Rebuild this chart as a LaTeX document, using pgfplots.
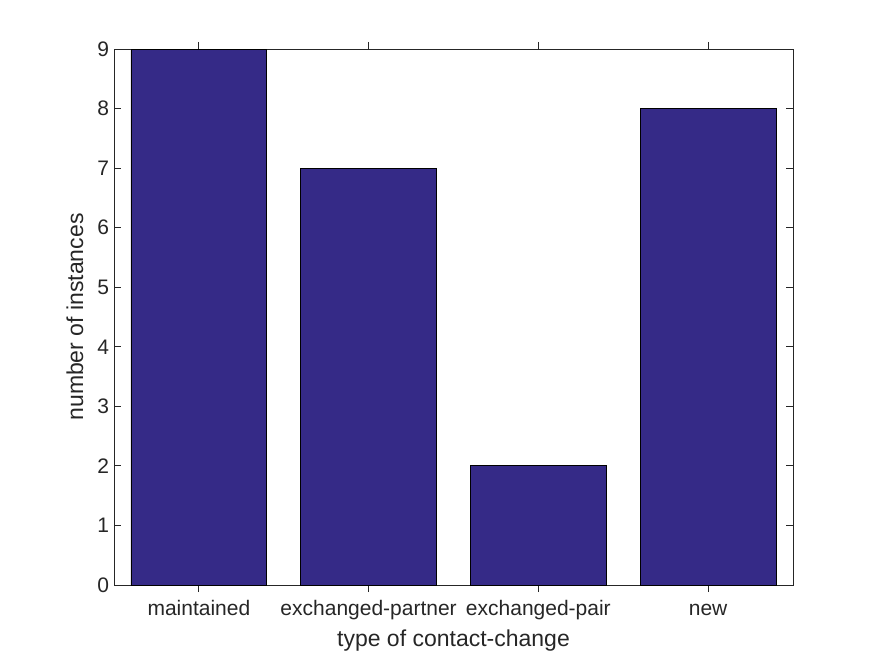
\documentclass[border=0pt]{standalone}
\usepackage{fontspec}
\setmainfont{Liberation Sans}
\usepackage{pgfplots}
\pgfplotsset{compat=1.18}
\definecolor{barblue}{HTML}{352A87}
\definecolor{axgray}{HTML}{262626}
\begin{document}
\begin{tikzpicture}[x=1pt,y=1pt]
\path[use as bounding box] (-114,-71) rectangle (761,585);
\begin{axis}[
  at={(0,0)}, anchor=south west, scale only axis,
  width=679pt, height=536pt,
  xmin=0.5, xmax=4.5, ymin=0, ymax=9,
  xtick={1,2,3,4},
  xticklabels={maintained,exchanged-partner,exchanged-pair,new},
  ytick={0,1,...,9},
  tick align=inside, major tick length=7pt,
  axis line style={axgray, line width=0.9pt},
  tick style={axgray, line width=0.9pt},
  tick label style={font=\fontsize{21}{25}\selectfont, text=axgray},
  xticklabel style={anchor=base, yshift=-23pt},
  yticklabel style={xshift=-1.5pt},
  /pgf/number format/assume math mode=true,
  label style={font=\fontsize{23}{27}\selectfont, text=axgray},
  xlabel={type of contact-change},
  xlabel style={at={(axis description cs:0.5,-0.115)}, anchor=base},
  ylabel={number of instances},
  ylabel style={at={(axis description cs:-0.0574,0.5)}, anchor=center},
  ybar, bar width=0.8,
]
\addplot[fill=barblue, draw=black, line width=0.9pt] coordinates {(1,9) (2,7) (3,2) (4,8)};
\end{axis}
\end{tikzpicture}
\end{document}
